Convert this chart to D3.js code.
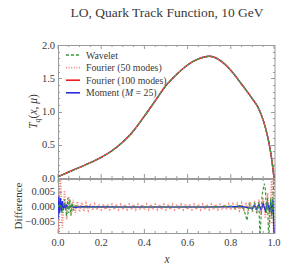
<!DOCTYPE html>
<html>
<head>
<meta charset="utf-8">
<script src="https://cdn.jsdelivr.net/npm/d3@7"></script>
<style>
  body { margin: 0; background: #fff; }
  svg text { font-family: "Liberation Serif", "DejaVu Serif", serif; fill: #3a3a3a; }
</style>
</head>
<body>
<div id="chart"></div>
<script>
var width = 292,
    height = 272;

// main curve T_q(x, mu)
var xs = [0, 0.05, 0.1, 0.15, 0.2, 0.25, 0.3, 0.35, 0.4, 0.45, 0.5, 0.55, 0.6, 0.65, 0.7,
          0.75, 0.8, 0.85, 0.9, 0.925, 0.95, 0.97, 0.98, 0.99, 1.0];
var tVals = [0.02, 0.09, 0.16, 0.23, 0.31, 0.41, 0.54, 0.71, 0.93, 1.16, 1.39, 1.56, 1.70, 1.79, 1.83,
             1.77, 1.62, 1.41, 1.19, 1.07, 0.87, 0.63, 0.47, 0.27, 0.0];

// differences, Fourier (50 modes): sampled every 0.01
var f50Diff = [-0.014, 0.013, -0.007, 0.0055, -0.0042, 0.0035, -0.0028, 0.0024, -0.002, 0.0018,
  -0.0016, 0.0015, -0.0014, 0.0013, -0.0012, 0.0011, -0.0011, 0.001, -0.001, 0.0009,
  -0.0009, 0.0009, -0.0009, 0.0009, -0.0009, 0.0009, -0.0009, 0.0009, -0.0009, 0.0009,
  -0.0009, 0.0009, -0.0009, 0.0009, -0.0009, 0.0009, -0.0009, 0.0009, -0.0009, 0.0009,
  -0.0009, 0.0009, -0.0009, 0.0009, -0.0009, 0.0009, -0.0009, 0.0009, -0.0009, 0.0009,
  -0.0009, 0.0009, -0.0009, 0.0009, -0.0009, 0.0009, -0.0009, 0.0009, -0.0009, 0.0009,
  -0.0009, 0.0009, -0.0009, 0.0009, -0.0009, 0.0009, -0.0009, 0.0009, -0.0009, 0.0009,
  -0.0009, 0.0009, -0.0009, 0.0009, -0.0009, 0.0009, -0.0009, 0.0009, -0.0009, 0.001,
  -0.001, 0.001, -0.0011, 0.0011, -0.0012, 0.0013, -0.0014, 0.0015, -0.0016, 0.0017,
  -0.0018, 0.002, -0.0022, 0.0025, -0.0028, 0.0032, -0.0038, 0.0046, -0.006, 0.011, -0.014];

// differences, Moment (M = 25)
var momX = [0, 0.004, 0.008, 0.012, 0.016, 0.02, 0.025, 0.03, 0.035, 0.04, 0.05, 0.06, 0.08, 0.1,
            0.3, 0.5, 0.7, 0.85, 0.9, 0.91, 0.92, 0.93, 0.94, 0.95, 0.96, 0.97, 0.98, 0.985, 0.99, 0.995, 1.0];
var momDiff = [-0.004, 0.0035, -0.002, 0.003, -0.0015, 0.002, -0.001, 0.0012, -0.0008, 0.0006, -0.0004, 0.0003, -0.0002, 0.0001,
               0, 0, 0, 0.0002, -0.0005, 0.0006, -0.0008, 0.0009, -0.001, 0.0012, -0.0014, 0.0016, -0.0018, 0.002, -0.0022, 0.0025, -0.009];

// differences, Wavelet
var wavX = [0, 0.01, 0.02, 0.03, 0.04, 0.045, 0.05, 0.055, 0.06, 0.065, 0.07, 0.08, 0.1,
            0.3, 0.5, 0.7, 0.8, 0.82, 0.84, 0.86, 0.875, 0.885, 0.9, 0.91, 0.92, 0.93, 0.935,
            0.945, 0.955, 0.96, 0.965, 0.97, 0.975, 0.985, 0.99, 1.0];
var wavDiff = [0, 0.001, -0.002, 0.0025, -0.003, 0.003, -0.002, 0.0025, -0.0028, 0.0015, -0.001, 0.0004, 0,
               0, 0, 0, 0.0003, -0.0004, 0.0005, -0.0006, -0.0045, 0.001, -0.001, 0.0015, -0.002, 0.0015, -0.011,
               0.004, 0.0078, 0.006, -0.002, 0.003, -0.011, 0.003, -0.004, 0.01];

var series = [
  {name: "Wavelet", color: "#3a9a3a", dash: "3,2", width: 1.2},
  {name: "Fourier (50 modes)", color: "#f58a80", dash: "1,1.6", width: 1.4},
  {name: "Fourier (100 modes)", color: "#ee1c1c", dash: null, width: 1.4},
  {name: "Moment (M = 25)", color: "#2a2ae0", dash: null, width: 1.4}
];

var left = 58, right = 274;
var topY0 = 45, topY1 = 178, botY0 = 179, botY1 = 233;

var x = d3.scaleLinear().domain([0, 1]).range([left, right]);
var yTop = d3.scaleLinear().domain([0, 2]).range([topY1, topY0]);
var yBot = d3.scaleLinear().domain([-0.00867, 0.00933]).range([botY1, botY0]);

var svg = d3.select("#chart").append("svg")
  .attr("width", width).attr("height", height);

var defs = svg.append("defs");
defs.append("clipPath").attr("id", "clipTop").append("rect")
  .attr("x", left).attr("y", topY0).attr("width", right - left + 1).attr("height", topY1 - topY0);
defs.append("clipPath").attr("id", "clipBot").append("rect")
  .attr("x", left).attr("y", botY0).attr("width", right - left + 1).attr("height", botY1 - botY0);

// title
svg.append("text")
  .attr("x", 167).attr("y", 17)
  .attr("text-anchor", "middle")
  .style("font-size", "13.5px")
  .text("LO, Quark Track Function, 10 GeV");

function drawFrame(y0, y1, yScale, majors, minors) {
  var g = svg.append("g");
  g.append("rect")
    .attr("x", left + 0.5).attr("y", y0 + 0.5)
    .attr("width", right - left + 0.5).attr("height", y1 - y0)
    .attr("fill", "none").attr("stroke", "#9a9a9a").attr("stroke-width", 1);
  var xMaj = d3.range(0, 1.0001, 0.2), xMin = d3.range(0, 1.0001, 0.05);
  xMin.forEach(function (v) {
    var big = xMaj.some(function (m) { return Math.abs(m - v) < 1e-6; });
    var len = big ? 4 : 2;
    g.append("line").attr("x1", x(v)).attr("x2", x(v)).attr("y1", y1).attr("y2", y1 - len)
      .attr("stroke", "#9a9a9a");
    g.append("line").attr("x1", x(v)).attr("x2", x(v)).attr("y1", y0).attr("y2", y0 + len)
      .attr("stroke", "#9a9a9a");
  });
  minors.forEach(function (v) {
    var big = majors.some(function (m) { return Math.abs(m - v) < 1e-9; });
    var len = big ? 4 : 2;
    var yy = Math.round(yScale(v)) + 0.5;
    g.append("line").attr("x1", left).attr("x2", left + len).attr("y1", yy).attr("y2", yy)
      .attr("stroke", "#9a9a9a");
    g.append("line").attr("x1", right + 1).attr("x2", right + 1 - len).attr("y1", yy).attr("y2", yy)
      .attr("stroke", "#9a9a9a");
  });
}

// top panel
var topMaj = [0, 0.5, 1, 1.5, 2];
drawFrame(topY0, topY1, yTop, topMaj, d3.range(0, 2.0001, 0.1));
svg.append("g").selectAll("text").data(topMaj).enter().append("text")
  .attr("x", 55).attr("y", function (d) { return yTop(d) + 3.5; })
  .attr("text-anchor", "end").style("font-size", "10.5px")
  .text(d3.format(".1f"));

var line = d3.line()
  .x(function (d) { return x(d[0]); })
  .y(function (d) { return yTop(d[1]); })
  .curve(d3.curveMonotoneX);
var mainPts = xs.map(function (v, i) { return [v, tVals[i]]; });

var topG = svg.append("g").attr("clip-path", "url(#clipTop)");
series.slice().reverse().forEach(function (s) {
  topG.append("path").attr("d", line(mainPts))
    .attr("fill", "none").attr("stroke", s.color).attr("stroke-width", s.width)
    .attr("stroke-dasharray", s.dash);
});

// legend
var leg = svg.append("g");
series.forEach(function (s, i) {
  var yy = 55 + i * 12.6;
  leg.append("line").attr("x1", 66).attr("x2", 80).attr("y1", yy).attr("y2", yy)
    .attr("stroke", s.color).attr("stroke-width", s.width + 0.2).attr("stroke-dasharray", s.dash);
  var t = leg.append("text").attr("x", 86).attr("y", yy + 3.5).style("font-size", "9.8px");
  if (i === 3) {
    t.append("tspan").text("Moment (");
    t.append("tspan").style("font-style", "italic").text("M");
    t.append("tspan").text(" = 25)");
  } else {
    t.text(s.name);
  }
});

// y label top
var yl = svg.append("text")
  .attr("transform", "translate(37," + ((topY0 + topY1) / 2) + ") rotate(-90)")
  .attr("text-anchor", "middle").style("font-size", "11.5px");
yl.append("tspan").style("font-style", "italic").text("T");
yl.append("tspan").style("font-style", "italic").style("font-size", "8px").attr("dy", 3).text("q");
yl.append("tspan").attr("dy", -3).text("(");
yl.append("tspan").style("font-style", "italic").text("x");
yl.append("tspan").text(", ");
yl.append("tspan").style("font-style", "italic").text("μ");
yl.append("tspan").text(")");

// bottom panel
var botMaj = [-0.005, 0, 0.005];
drawFrame(botY0, botY1, yBot, botMaj, d3.range(-0.008, 0.0091, 0.001).map(function (v) { return Math.round(v * 1e4) / 1e4; }));
svg.append("g").selectAll("text").data(botMaj).enter().append("text")
  .attr("x", 55).attr("y", function (d) { return yBot(d) + 3.5; })
  .attr("text-anchor", "end").style("font-size", "10.5px")
  .text(function (d) { return d3.format(".3f")(d).replace("-", "\u2212"); });

var botG = svg.append("g").attr("clip-path", "url(#clipBot)");
botG.append("line").attr("x1", left).attr("x2", right).attr("y1", yBot(0)).attr("y2", yBot(0))
  .attr("stroke", "#555").attr("stroke-width", 1.2);

var dline = d3.line()
  .x(function (d) { return x(d[0]); })
  .y(function (d) { return yBot(d[1]); });

var momPts = momX.map(function (v, i) { return [v, momDiff[i]]; });
var f50Pts = f50Diff.map(function (v, i) { return [i / 100, v]; });
var wavPts = wavX.map(function (v, i) { return [v, wavDiff[i]]; });

botG.append("path").attr("d", dline(f50Pts)).attr("fill", "none")
  .attr("stroke", series[1].color).attr("stroke-width", 1.6).attr("stroke-dasharray", "1.2,1.4");
botG.append("path").attr("d", dline(momPts)).attr("fill", "none")
  .attr("stroke", series[3].color).attr("stroke-width", 1.2);
botG.append("path").attr("d", dline(wavPts)).attr("fill", "none")
  .attr("stroke", series[0].color).attr("stroke-width", 1.2).attr("stroke-dasharray", "3,2");

// x tick labels
svg.append("g").selectAll("text").data(d3.range(0, 1.0001, 0.2)).enter().append("text")
  .attr("x", function (d) { return x(d); }).attr("y", 246)
  .attr("text-anchor", "middle").style("font-size", "10.5px")
  .text(d3.format(".1f"));

svg.append("text").attr("x", 167).attr("y", 263)
  .attr("text-anchor", "middle").style("font-size", "11.5px").style("font-style", "italic")
  .text("x");

svg.append("text")
  .attr("transform", "translate(22," + ((botY0 + botY1) / 2) + ") rotate(-90)")
  .attr("text-anchor", "middle").style("font-size", "11px")
  .text("Difference");
</script>
</body>
</html>
